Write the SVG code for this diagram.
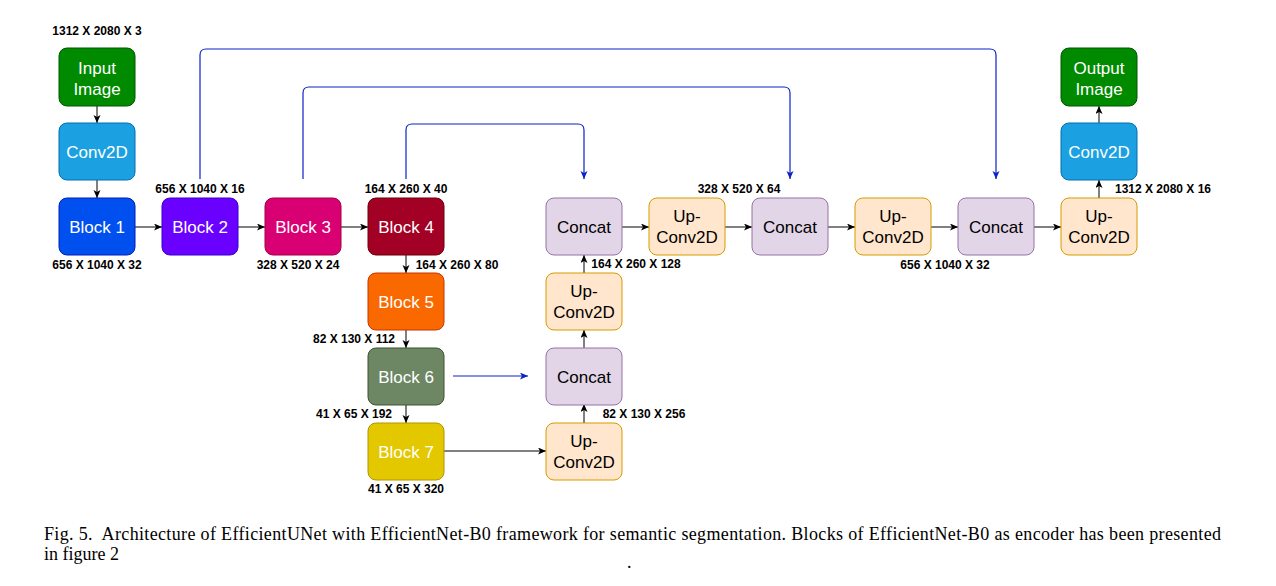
<svg xmlns="http://www.w3.org/2000/svg" width="1276" height="586" viewBox="0 0 1276 586">
<style>
.n{stroke-width:1}
.lbl{font-family:"Liberation Sans",Arial,sans-serif;font-size:17px;text-anchor:middle}
.w{fill:#ffffff}
.k{fill:#000000}
.dim{font-family:"Liberation Sans",Arial,sans-serif;font-size:12px;font-weight:bold;fill:#000;text-anchor:middle}
.cap{font-family:"Liberation Serif","Times New Roman",serif;font-size:18px;fill:#000}
.e{fill:none;stroke:#000;stroke-width:1;marker-end:url(#ak)}
.s{fill:none;stroke:#0a22c8;stroke-width:1.2;marker-end:url(#ab)}
.green{fill:#008a00;stroke:#005700}
.cyan{fill:#1ba1e2;stroke:#006eaf}
.concat{fill:#e1d5e7;stroke:#9673a6}
.up{fill:#ffe6cc;stroke:#d79b00}
</style>
<defs>
<marker id="ak" markerUnits="userSpaceOnUse" markerWidth="9" markerHeight="8" refX="8" refY="3.5" orient="auto">
<path d="M0,0 L8,3.5 L0,7 L2,3.5 Z" fill="#000"/>
</marker>
<marker id="ab" markerUnits="userSpaceOnUse" markerWidth="9" markerHeight="8" refX="8" refY="3.5" orient="auto">
<path d="M0,0 L8,3.5 L0,7 L2,3.5 Z" fill="#0a22c8"/>
</marker>
</defs>
<rect width="1276" height="586" fill="#ffffff"/>

<g id="connectors">
<path class="e" d="M97,106 V123"/>
<path class="e" d="M97,180 V198"/>
<path class="e" d="M135,227 H162"/>
<path class="e" d="M238,227 H265"/>
<path class="e" d="M341,227 H368"/>
<path class="e" d="M406,255 V273"/>
<path class="e" d="M406,330 V348"/>
<path class="e" d="M406,404 V423"/>
<path class="e" d="M444,451 H546"/>
<path class="e" d="M584,423 V404"/>
<path class="e" d="M584,348 V330"/>
<path class="e" d="M584,273 V255"/>
<path class="e" d="M622,227 H649"/>
<path class="e" d="M725,227 H752"/>
<path class="e" d="M828,227 H855"/>
<path class="e" d="M931,227 H958"/>
<path class="e" d="M1034,227 H1061"/>
<path class="e" d="M1099,198 V180"/>
<path class="e" d="M1099,123 V106"/>
<path class="s" d="M200,179 V55 Q200,49 206,49 H990 Q996,49 996,55 V179"/>
<path class="s" d="M303,179 V93 Q303,87 309,87 H784 Q790,87 790,93 V179"/>
<path class="s" d="M406,179 V130 Q406,124 412,124 H578 Q584,124 584,130 V179"/>
<path class="s" d="M453,376 H528"/>
</g>

<g id="input-image"><rect class="n green" x="59" y="48" width="76" height="58" rx="8"/><text class="lbl w" x="97" y="74">Input</text><text class="lbl w" x="97" y="95">Image</text></g>
<g id="conv2d-in"><rect class="n cyan" x="59" y="123" width="76" height="57" rx="8"/><text class="lbl w" x="97" y="158">Conv2D</text></g>
<g id="block1"><rect class="n" fill="#0050ef" stroke="#001dbc" x="59" y="198" width="76" height="57" rx="8"/><text class="lbl w" x="97" y="233">Block 1</text></g>
<g id="block2"><rect class="n" fill="#6a00ff" stroke="#3700cc" x="162" y="198" width="76" height="57" rx="8"/><text class="lbl w" x="200" y="233">Block 2</text></g>
<g id="block3"><rect class="n" fill="#d80073" stroke="#a50040" x="265" y="198" width="76" height="57" rx="8"/><text class="lbl w" x="303" y="233">Block 3</text></g>
<g id="block4"><rect class="n" fill="#a20025" stroke="#6f0000" x="368" y="198" width="76" height="57" rx="8"/><text class="lbl w" x="406" y="233">Block 4</text></g>
<g id="block5"><rect class="n" fill="#fa6800" stroke="#c73500" x="368" y="273" width="76" height="57" rx="8"/><text class="lbl w" x="406" y="308">Block 5</text></g>
<g id="block6"><rect class="n" fill="#6d8764" stroke="#3a5431" x="368" y="348" width="76" height="57" rx="8"/><text class="lbl w" x="406" y="383">Block 6</text></g>
<g id="block7"><rect class="n" fill="#e3c800" stroke="#b09500" x="368" y="423" width="76" height="57" rx="8"/><text class="lbl w" x="406" y="458">Block 7</text></g>

<g id="upconv-a"><rect class="n up" x="546" y="423" width="76" height="57" rx="8"/><text class="lbl k" x="584" y="447">Up-</text><text class="lbl k" x="584" y="468">Conv2D</text></g>
<g id="concat-a"><rect class="n concat" x="546" y="348" width="76" height="57" rx="8"/><text class="lbl k" x="584" y="383">Concat</text></g>
<g id="upconv-b"><rect class="n up" x="546" y="273" width="76" height="57" rx="8"/><text class="lbl k" x="584" y="297">Up-</text><text class="lbl k" x="584" y="318">Conv2D</text></g>
<g id="concat-b"><rect class="n concat" x="546" y="198" width="76" height="57" rx="8"/><text class="lbl k" x="584" y="233">Concat</text></g>
<g id="upconv-c"><rect class="n up" x="649" y="198" width="76" height="57" rx="8"/><text class="lbl k" x="687" y="222">Up-</text><text class="lbl k" x="687" y="243">Conv2D</text></g>
<g id="concat-c"><rect class="n concat" x="752" y="198" width="76" height="57" rx="8"/><text class="lbl k" x="790" y="233">Concat</text></g>
<g id="upconv-d"><rect class="n up" x="855" y="198" width="76" height="57" rx="8"/><text class="lbl k" x="893" y="222">Up-</text><text class="lbl k" x="893" y="243">Conv2D</text></g>
<g id="concat-d"><rect class="n concat" x="958" y="198" width="76" height="57" rx="8"/><text class="lbl k" x="996" y="233">Concat</text></g>
<g id="upconv-e"><rect class="n up" x="1061" y="198" width="76" height="57" rx="8"/><text class="lbl k" x="1099" y="222">Up-</text><text class="lbl k" x="1099" y="243">Conv2D</text></g>
<g id="conv2d-out"><rect class="n cyan" x="1061" y="123" width="76" height="57" rx="8"/><text class="lbl w" x="1099" y="158">Conv2D</text></g>
<g id="output-image"><rect class="n green" x="1061" y="48" width="76" height="58" rx="8"/><text class="lbl w" x="1099" y="74">Output</text><text class="lbl w" x="1099" y="95">Image</text></g>

<g id="dims">
<text class="dim" x="97" y="35">1312 X 2080 X 3</text>
<text class="dim" x="200" y="193">656 X 1040 X 16</text>
<text class="dim" x="97" y="269">656 X 1040 X 32</text>
<text class="dim" x="298" y="269">328 X 520 X 24</text>
<text class="dim" x="406" y="193">164 X 260 X 40</text>
<text class="dim" x="457" y="269">164 X 260 X 80</text>
<text class="dim" x="354" y="343">82 X 130 X 112</text>
<text class="dim" x="354" y="418">41 X 65 X 192</text>
<text class="dim" x="406" y="493">41 X 65 X 320</text>
<text class="dim" x="644" y="418">82 X 130 X 256</text>
<text class="dim" x="636" y="268">164 X 260 X 128</text>
<text class="dim" x="739" y="193">328 X 520 X 64</text>
<text class="dim" x="945" y="269">656 X 1040 X 32</text>
<text class="dim" x="1163" y="193">1312 X 2080 X 16</text>
</g>

<g id="caption">
<text class="cap" xml:space="preserve" x="44" y="540" textLength="1177" lengthAdjust="spacing">Fig. 5.  Architecture of EfficientUNet with EfficientNet-B0 framework for semantic segmentation. Blocks of EfficientNet-B0 as encoder has been presented</text>
<text class="cap" x="44" y="560">in figure 2</text>
<text class="cap" x="627" y="568">.</text>
</g>
</svg>
